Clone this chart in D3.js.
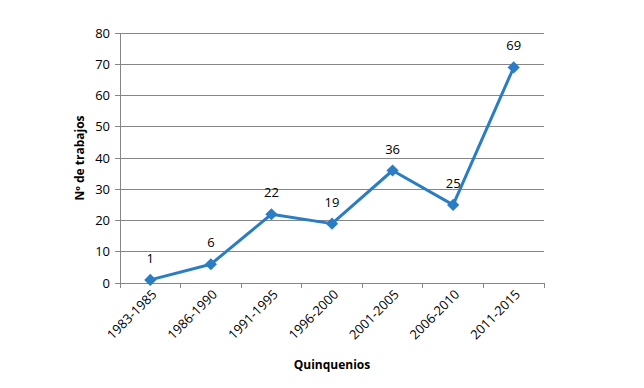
<!DOCTYPE html>
<html>
<head>
<meta charset="utf-8">
<script src="https://cdn.jsdelivr.net/npm/d3@7"></script>
<style>
body { margin: 0; background: #fff; }
text { font-family: "Open Sans", "Liberation Sans", sans-serif; fill: #000; }
</style>
</head>
<body>
<script>
var categories = ["1983-1985", "1986-1990", "1991-1995", "1996-2000", "2001-2005", "2006-2010", "2011-2015"]
var values = [1, 6, 22, 19, 36, 25, 69]
var yTicks = [0, 10, 20, 30, 40, 50, 60, 70, 80]

var width = 644, height = 388
var margin = {top: 33, right: 100, bottom: 105, left: 120}
var w = width - margin.left - margin.right,
    h = height - margin.top - margin.bottom

var svg = d3.select("body").append("svg")
    .attr("width", width).attr("height", height)
var g = svg.append("g")
    .attr("transform", "translate(" + margin.left + "," + margin.top + ")")

var x = d3.scaleBand().domain(categories).range([0, w])
var y = d3.scaleLinear().domain([0, 80]).range([h, 0])
var cx = function(d) { return x(d) + x.bandwidth() / 2 }

// gridlines
g.selectAll(".grid").data(yTicks.slice(1)).enter().append("line")
    .attr("x1", 0).attr("x2", w)
    .attr("y1", d => y(d)).attr("y2", d => y(d))
    .attr("stroke", "#868686").attr("stroke-width", 1)
    .attr("shape-rendering", "crispEdges")

// y axis
g.append("line").attr("x1", 0).attr("x2", 0).attr("y1", 0).attr("y2", h)
    .attr("stroke", "#868686").attr("shape-rendering", "crispEdges")
g.selectAll(".yt").data(yTicks).enter().append("line")
    .attr("x1", -5).attr("x2", 0)
    .attr("y1", d => y(d)).attr("y2", d => y(d))
    .attr("stroke", "#868686").attr("shape-rendering", "crispEdges")
g.selectAll(".yl").data(yTicks).enter().append("text")
    .attr("x", -10).attr("y", d => y(d)).attr("dy", "0.35em")
    .attr("text-anchor", "end").style("font-size", "13px")
    .text(d => d)

// x axis
g.append("line").attr("x1", 0).attr("x2", w).attr("y1", h).attr("y2", h)
    .attr("stroke", "#868686").attr("shape-rendering", "crispEdges")
var bounds = categories.map(d => x(d)).concat([w])
g.selectAll(".xt").data(bounds).enter().append("line")
    .attr("x1", d => d).attr("x2", d => d)
    .attr("y1", h).attr("y2", h + 5)
    .attr("stroke", "#868686").attr("shape-rendering", "crispEdges")
g.selectAll(".xl").data(categories).enter().append("text")
    .attr("transform", d => "translate(" + (cx(d) + 4) + "," + (h + 9) + ") rotate(-45)")
    .attr("text-anchor", "end").attr("dy", "0.35em")
    .style("font-size", "13px")
    .text(d => d)

// line
var data = categories.map((c, i) => ({c: c, v: values[i]}))
g.append("path").datum(data)
    .attr("fill", "none").attr("stroke", "#2A7DC4").attr("stroke-width", 3)
    .attr("stroke-linejoin", "round")
    .attr("d", d3.line().x(d => cx(d.c)).y(d => y(d.v)))

g.selectAll(".m").data(data).enter().append("path")
    .attr("transform", d => "translate(" + cx(d.c) + "," + y(d.v) + ")")
    .attr("d", d3.symbol().type(d3.symbolDiamond2).size(95))
    .attr("fill", "#2A7DC4")

g.selectAll(".dl").data(data).enter().append("text")
    .attr("x", d => cx(d.c)).attr("y", d => y(d.v) - 17)
    .attr("text-anchor", "middle").style("font-size", "13px")
    .text(d => d.v)

// axis titles
svg.append("text")
    .attr("transform", "translate(84," + (margin.top + h / 2) + ") rotate(-90)")
    .attr("text-anchor", "middle").style("font-size", "12px").style("font-weight", "bold")
    .text("Nº de trabajos")
svg.append("text")
    .attr("x", margin.left + w / 2).attr("y", 369)
    .attr("text-anchor", "middle").style("font-size", "12px").style("font-weight", "bold")
    .text("Quinquenios")
</script>
</body>
</html>
